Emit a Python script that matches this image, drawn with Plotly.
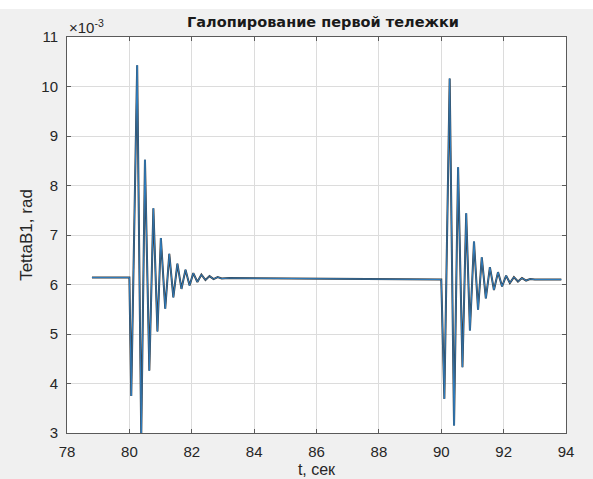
import plotly.graph_objects as go

# time (s) and TettaB1 (x1e-3 rad) read at the extrema of the trace
t = [78.8, 80.0, 80.06, 80.25, 80.38, 80.5, 80.64, 80.77, 80.9, 81.01, 81.15,
     81.28, 81.41, 81.54, 81.67, 81.8, 81.93, 82.05, 82.18, 82.31, 82.44,
     82.57, 82.7, 82.83, 82.96, 83.2,
     90.0, 90.1, 90.27, 90.41, 90.54, 90.68, 90.8, 90.92, 91.05, 91.18,
     91.3, 91.43, 91.56, 91.69, 91.82, 91.95, 92.08, 92.2, 92.33, 92.46,
     92.59, 92.72, 92.85, 93.0, 93.85]
theta = [6.14, 6.14, 3.75, 10.43, 2.9, 8.52, 4.26, 7.54, 5.05, 6.94, 5.51,
         6.62, 5.74, 6.42, 5.91, 6.30, 5.98, 6.23, 6.05, 6.20, 6.09,
         6.17, 6.11, 6.15, 6.12, 6.13,
         6.10, 3.69, 10.16, 3.15, 8.37, 4.33, 7.44, 5.07, 6.87, 5.49,
         6.55, 5.72, 6.35, 5.89, 6.25, 5.96, 6.18, 6.03, 6.15, 6.06,
         6.13, 6.08, 6.11, 6.10, 6.10]

x_ticks = [78, 80, 82, 84, 86, 88, 90, 92, 94]
y_ticks = [3, 4, 5, 6, 7, 8, 9, 10, 11]

title = "Галопирование первой тележки"
x_title = "t, сек"
y_title = "TettaB1, rad"
exp_label = "×10<sup>-3</sup>"

fig = go.Figure()
fig.add_trace(go.Scatter(x=t, y=theta, mode="lines",
                         line=dict(color="#3a3a3a", width=2.0),
                         hoverinfo="skip", showlegend=False))
fig.add_trace(go.Scatter(x=t, y=theta, mode="lines",
                         line=dict(color="#2f7fc2", width=1.0),
                         showlegend=False))

font_family = "Liberation Sans, Arial, sans-serif"
axis_common = dict(
    showgrid=True, gridcolor="#dcdcdc", gridwidth=1,
    showline=True, linecolor="#5a5a5a", linewidth=1, mirror="allticks",
    ticks="inside", ticklen=4, tickcolor="#5a5a5a", automargin=False,
    zeroline=False, tickfont=dict(size=15, color="#262626", family=font_family),
)

fig.update_layout(
    width=593, height=479,
    margin=dict(l=67, r=27, t=37, b=46),
    paper_bgcolor="#f0f0f0", plot_bgcolor="white",
    font=dict(family=font_family, color="#262626"),
    title=dict(text="<b>" + title + "</b>", x=323 / 593, xanchor="center",
               y=1 - 22 / 479, yanchor="middle",
               font=dict(size=14.5, color="#1a1a1a", family="DejaVu Sans, sans-serif")),
    xaxis=dict(range=[78, 94], tickvals=x_ticks, ticktext=[str(v) for v in x_ticks],
               ticklabelstandoff=5,
               title=dict(text=x_title, font=dict(size=16), standoff=4),
               **axis_common),
    yaxis=dict(range=[3, 11], tickvals=y_ticks, ticktext=[str(v) for v in y_ticks],
               ticklabelstandoff=5,
               title=dict(text=y_title, font=dict(size=17), standoff=4),
               **axis_common),
    showlegend=False,
)

fig.add_annotation(text=exp_label, xref="paper", yref="paper", x=0.0, y=1.0,
                   xanchor="left", yanchor="bottom", showarrow=False,
                   font=dict(size=15, color="#262626"), yshift=-1)

# white strip at the very top of the figure
fig.add_shape(type="rect", xref="paper", yref="paper",
              x0=-0.2, x1=1.2, y0=(433 - 9) / 396, y1=(433 + 5) / 396,
              fillcolor="white", line=dict(width=0), layer="below")

fig.write_html("out.html")
